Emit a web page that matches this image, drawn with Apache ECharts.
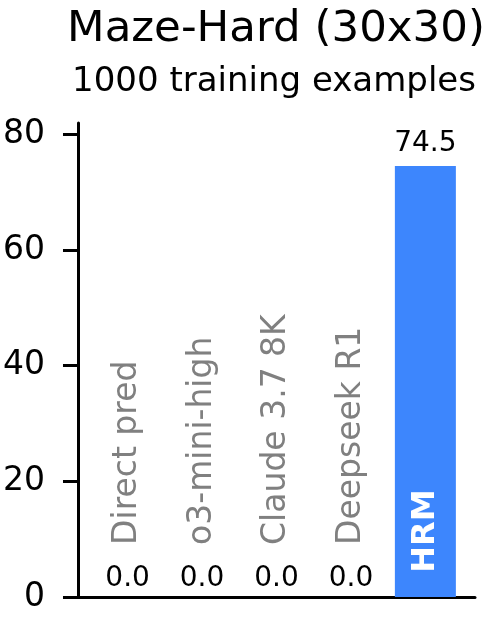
<!DOCTYPE html>
<html>
<head>
<meta charset="utf-8">
<script src="https://cdn.jsdelivr.net/npm/echarts@6/dist/echarts.min.js"></script>
<style>
  html, body { margin: 0; padding: 0; background: #fff; }
  #chart { width: 497px; height: 618px; }
</style>
</head>
<body>
<div id="chart"></div>
<script>
// data
const models = ['Direct pred', 'o3-mini-high', 'Claude 3.7 8K', 'Deepseek R1', 'HRM']
const scores = [0.0, 0.0, 0.0, 0.0, 74.5]
const yTicks = [0, 20, 40, 60, 80]

const font = 'DejaVu Sans'
const blue = '#3d86fd'

const chart = echarts.init(document.getElementById('chart'))

// bars on a value x axis so the bar spacing matches the original
const barData = scores.map((v, i) => ({
  value: [i, v],
  label: { distance: v > 0 ? 8 : 4 }
}))

// model names written up the bars
const nameData = models.map((name, i) => {
  const isHrm = scores[i] > 0
  return {
    value: [i, isHrm ? 4.2 : 9.0],
    label: {
      formatter: name,
      color: isHrm ? '#fff' : '#808080',
      fontWeight: isHrm ? 'bold' : 'normal',
      fontSize: isHrm ? 32 : 33
    }
  }
})

const option = {
  animation: false,
  graphic: [
    {
      type: 'text', x: 276, y: 30,
      style: { text: 'Maze-Hard (30x30)', fontFamily: font, fontSize: 43.5, fill: '#000', textAlign: 'center', textVerticalAlign: 'middle' }
    },
    {
      type: 'text', x: 274, y: 82,
      style: { text: '1000 training examples', fontFamily: font, fontSize: 34, fill: '#000', textAlign: 'center', textVerticalAlign: 'middle' }
    }
  ],
  grid: { left: 75, right: 22, top: 123, bottom: 21 },
  xAxis: {
    type: 'value',
    min: -0.6667,
    max: 4.6667,
    axisLine: { show: true, lineStyle: { color: '#000', width: 3 } },
    axisTick: { show: false },
    axisLabel: { show: false },
    splitLine: { show: false }
  },
  yAxis: {
    type: 'value',
    min: 0,
    max: 81.95,
    axisLine: { show: true, onZero: false, lineStyle: { color: '#000', width: 3 } },
    axisTick: { show: true, length: 15, lineStyle: { width: 3, color: '#000' }, customValues: yTicks },
    axisLabel: { fontFamily: font, fontSize: 33, color: '#000', margin: 33, customValues: yTicks },
    splitLine: { show: false }
  },
  series: [
    {
      type: 'bar',
      data: barData,
      barWidth: 61,
      itemStyle: { color: blue },
      label: {
        show: true,
        position: 'top',
        fontFamily: font,
        fontSize: 28,
        color: '#000',
        formatter: p => p.value[1].toFixed(1)
      },
      z: 2
    },
    {
      type: 'scatter',
      data: nameData,
      symbolSize: 0,
      silent: true,
      itemStyle: { opacity: 1 },
      label: {
        show: true,
        position: 'inside',
        rotate: 90,
        align: 'left',
        verticalAlign: 'middle',
        fontFamily: font
      },
      z: 3
    }
  ]
}

chart.setOption(option)
</script>
</body>
</html>
